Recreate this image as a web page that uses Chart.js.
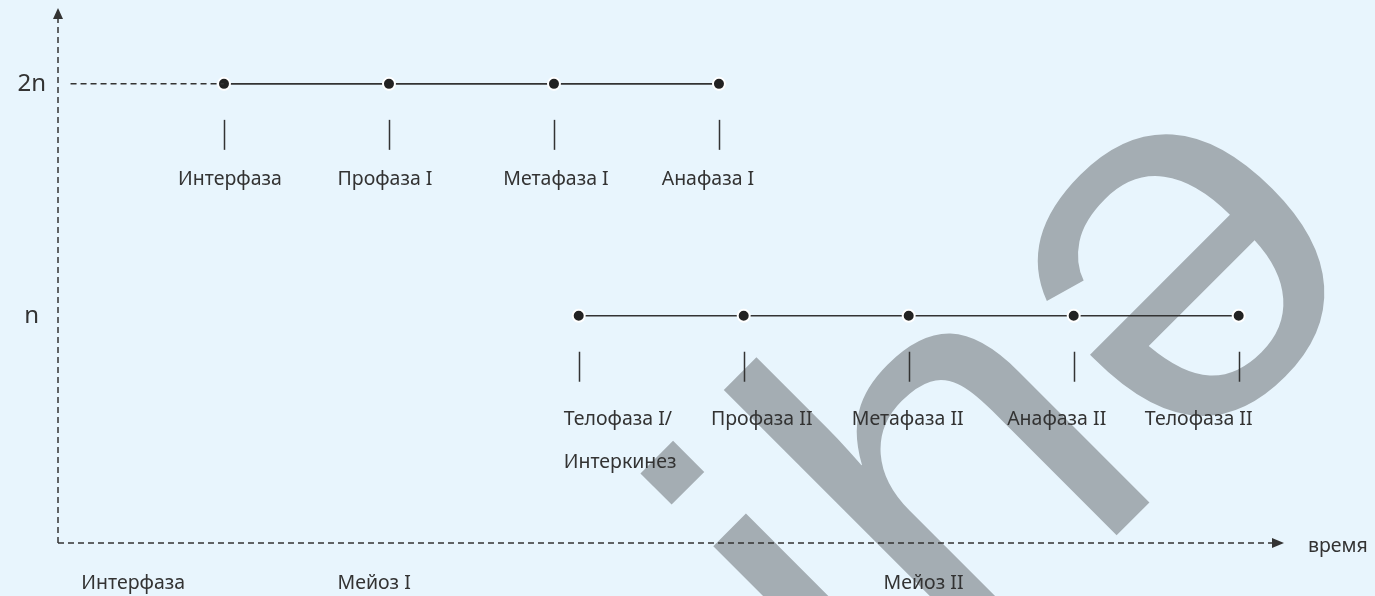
<!DOCTYPE html>
<html>
<head>
<meta charset="utf-8">
<script src="https://cdn.jsdelivr.net/npm/chart.js@4.4.0/dist/chart.umd.min.js"></script>
<style>
  html, body { margin: 0; padding: 0; background: #e8f5fd; }
  #wrap { width: 1375px; height: 596px; position: relative; }
</style>
</head>
<body>
<div id="wrap"><canvas id="c" width="1375" height="596"></canvas></div>
<script>
// ---- data ----
const ploidyLevels = [1, 2];
const ploidyTickLabels = ['n', '2n'];

const meiosisIPhases = ['Интерфаза', 'Профаза I', 'Метафаза I', 'Анафаза I'];
const meiosisITime = [1, 2, 3, 4];
const meiosisIPloidy = [2, 2, 2, 2];

const meiosisIIPhases = [['Телофаза I/', 'Интеркинез'], 'Профаза II', 'Метафаза II', 'Анафаза II', 'Телофаза II'];
const meiosisIITime = [3.15, 4.15, 5.15, 6.15, 7.15];
const meiosisIIPloidy = [1, 1, 1, 1, 1];

const guideTime = [0.07, 1];
const guidePloidy = [2, 2];

const stageLabels = ['Интерфаза', 'Мейоз I', 'Мейоз II'];
const stageTime = [0.45, 1.91, 5.24];

const xAxisTitle = 'время';
const watermarkGlyphs = ['ih', 'ə'];

// ---- styles ----
const INK = '#333333';
const BG = '#e8f5fd';
const FONT = '"Noto Sans", "Open Sans", sans-serif';
const labelStyles = {
  top:    { dy: 101, lineGap: 43, dx: [6, -4, 2, -11], align: ['center', 'center', 'center', 'center'] },
  bottom: { dy: 109, lineGap: 43, dx: [-15, 18, -1, -17, -40], align: ['left', 'center', 'center', 'center', 'center'] }
};

Chart.defaults.font.family = FONT;

const toPts = (xs, ys) => xs.map((x, i) => ({ x: x, y: ys[i] }));

const backgroundPlugin = {
  id: 'bgWatermark',
  beforeDraw(chart) {
    const ctx = chart.ctx;
    ctx.save();
    ctx.fillStyle = BG;
    ctx.fillRect(0, 0, chart.width, chart.height);
    ctx.rotate(-Math.PI / 4);
    ctx.font = '525px "Liberation Sans", Arial, sans-serif';
    ctx.fillStyle = '#a4adb3';
    ctx.textBaseline = 'alphabetic';
    ctx.textAlign = 'left';
    const x0 = 83;
    ctx.fillText(watermarkGlyphs[0], x0, 1168);
    const w = ctx.measureText(watermarkGlyphs[0]).width;
    ctx.fillText(watermarkGlyphs[1], x0 + w + 6, 1170);
    ctx.restore();
  }
};

const axesPlugin = {
  id: 'dashedAxes',
  beforeDatasetsDraw(chart) {
    const ctx = chart.ctx;
    const a = chart.chartArea;
    ctx.save();
    ctx.strokeStyle = INK;
    ctx.lineWidth = 1.5;
    ctx.setLineDash([6, 4]);
    ctx.beginPath();
    ctx.moveTo(a.left, a.bottom);
    ctx.lineTo(a.left, a.top);
    ctx.stroke();
    ctx.beginPath();
    ctx.moveTo(a.left, a.bottom);
    ctx.lineTo(a.right, a.bottom);
    ctx.stroke();
    ctx.restore();
  }
};

const phaseMarksPlugin = {
  id: 'phaseMarks',
  afterDatasetsDraw(chart) {
    const ctx = chart.ctx;
    chart.data.datasets.forEach((ds, di) => {
      if (!ds.phaseLabels) return;
      const meta = chart.getDatasetMeta(di);
      const st = labelStyles[ds.labelRow];
      meta.data.forEach((pt, i) => {
        ctx.save();
        ctx.strokeStyle = INK;
        ctx.lineWidth = 1.5;
        ctx.beginPath();
        ctx.moveTo(Math.round(pt.x) + 0.5, pt.y + 36);
        ctx.lineTo(Math.round(pt.x) + 0.5, pt.y + 66);
        ctx.stroke();
        ctx.fillStyle = INK;
        ctx.font = '19.5px ' + FONT;
        ctx.textBaseline = 'alphabetic';
        ctx.textAlign = st.align[i];
        const lines = [].concat(ds.phaseLabels[i]);
        lines.forEach((ln, k) => ctx.fillText(ln, pt.x + st.dx[i], pt.y + st.dy + k * st.lineGap));
        ctx.restore();
      });
    });
  }
};

const arrowsPlugin = {
  id: 'arrows',
  afterDraw(chart) {
    const ctx = chart.ctx;
    const a = chart.chartArea;
    ctx.save();
    ctx.fillStyle = INK;
    ctx.beginPath();
    ctx.moveTo(a.left, a.top - 10);
    ctx.lineTo(a.left - 5, a.top + 1);
    ctx.lineTo(a.left + 5, a.top + 1);
    ctx.closePath();
    ctx.fill();
    ctx.beginPath();
    ctx.moveTo(a.right + 11, a.bottom);
    ctx.lineTo(a.right - 1, a.bottom - 5);
    ctx.lineTo(a.right - 1, a.bottom + 5);
    ctx.closePath();
    ctx.fill();
    ctx.font = '19.5px ' + FONT;
    ctx.textAlign = 'left';
    ctx.textBaseline = 'alphabetic';
    ctx.fillText(xAxisTitle, a.right + 35, a.bottom + 9);
    ctx.restore();
  }
};

const pointStyle = {
  showLine: true,
  borderColor: INK,
  borderWidth: 1.6,
  pointRadius: 6,
  pointBackgroundColor: '#222222',
  pointBorderColor: '#ffffff',
  pointBorderWidth: 2
};

new Chart(document.getElementById('c'), {
  type: 'scatter',
  data: {
    datasets: [
      {
        label: 'guide',
        data: toPts(guideTime, guidePloidy),
        showLine: true,
        borderColor: INK,
        borderWidth: 1.5,
        borderDash: [6, 4],
        pointRadius: 0
      },
      Object.assign({
        label: 'Мейоз I',
        data: toPts(meiosisITime, meiosisIPloidy),
        phaseLabels: meiosisIPhases,
        labelRow: 'top'
      }, pointStyle),
      Object.assign({
        label: 'Мейоз II',
        data: toPts(meiosisIITime, meiosisIIPloidy),
        phaseLabels: meiosisIIPhases,
        labelRow: 'bottom'
      }, pointStyle)
    ]
  },
  options: {
    responsive: false,
    animation: false,
    events: [],
    layout: { padding: { left: 0, right: 102, top: 18, bottom: 0 } },
    plugins: { legend: { display: false }, tooltip: { enabled: false } },
    scales: {
      x: {
        type: 'linear',
        min: -0.006,
        max: 7.358,
        grid: { display: false, drawTicks: false },
        border: { display: false },
        afterBuildTicks: s => { s.ticks = stageTime.map(v => ({ value: v })); },
        afterFit: s => { s.height = 53; s.paddingLeft = 0; s.paddingRight = 0; },
        ticks: {
          callback: (v, i) => stageLabels[i],
          font: { size: 19.5 },
          color: INK,
          padding: 29,
          maxRotation: 0,
          autoSkip: false
        }
      },
      y: {
        type: 'linear',
        min: 0.02,
        max: 2.284,
        grid: { display: false, drawTicks: false },
        border: { display: false },
        afterBuildTicks: s => { s.ticks = ploidyLevels.map(v => ({ value: v })); },
        afterFit: s => { s.width = 58; s.paddingTop = 0; s.paddingBottom = 0; },
        ticks: {
          callback: (v, i) => ploidyTickLabels[i],
          font: { size: 24 },
          color: INK,
          crossAlign: 'center',
          padding: 12
        }
      }
    }
  },
  plugins: [backgroundPlugin, axesPlugin, phaseMarksPlugin, arrowsPlugin]
});
</script>
</body>
</html>
